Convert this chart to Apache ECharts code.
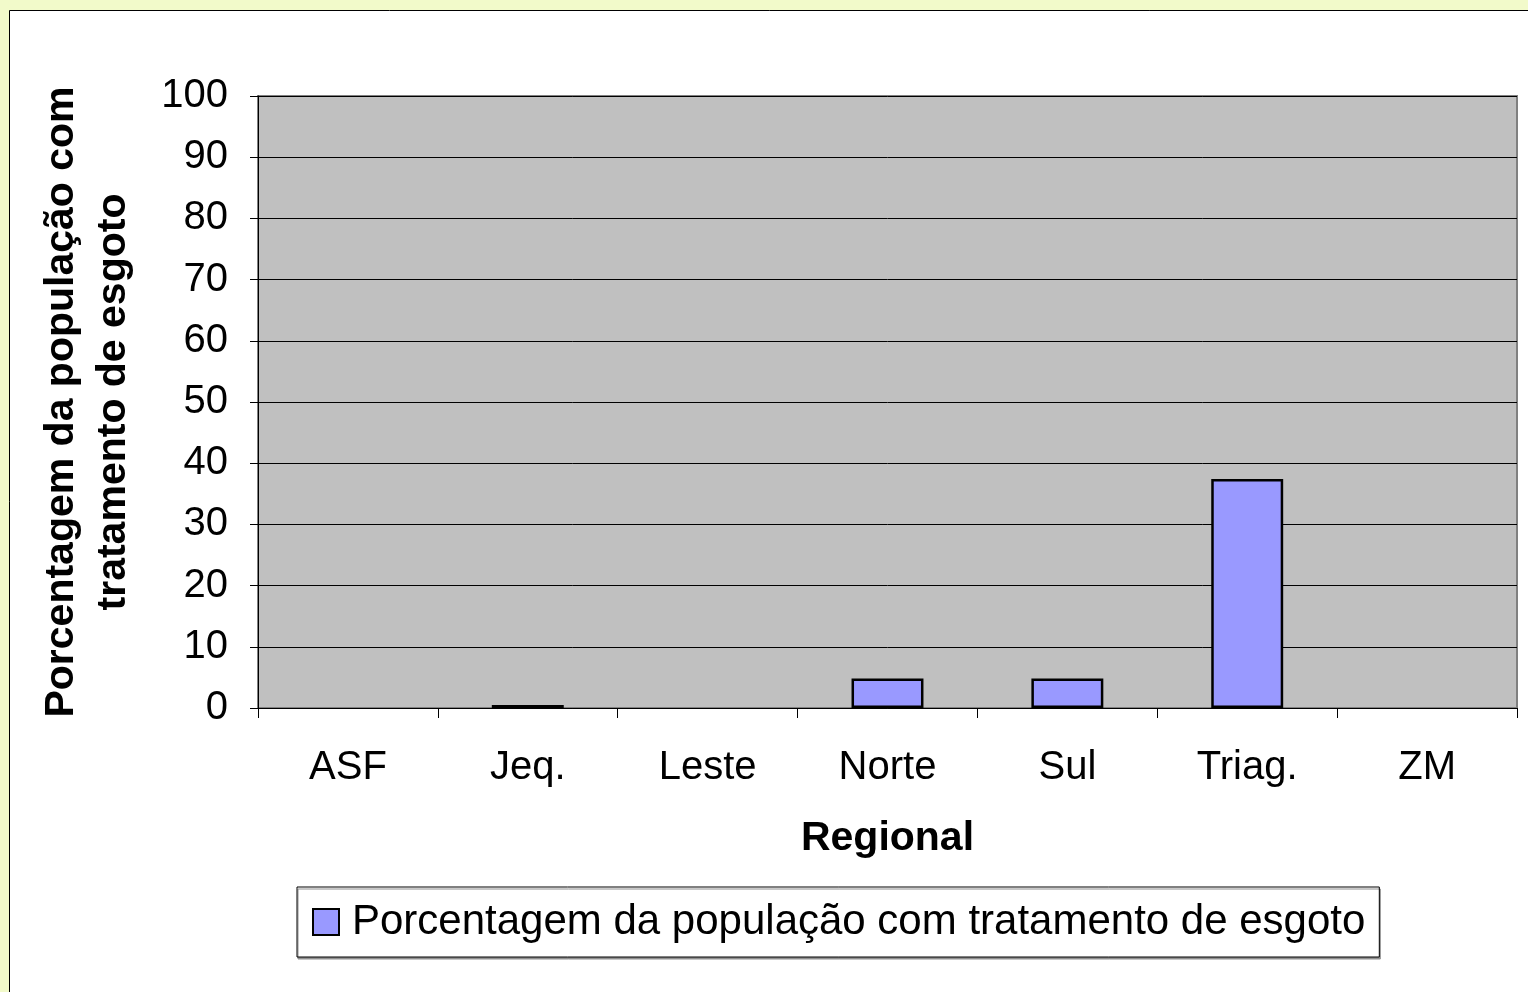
<!DOCTYPE html>
<html>
<head>
<meta charset="utf-8">
<script src="https://cdn.jsdelivr.net/npm/echarts@6/dist/echarts.min.js"></script>
<style>
  html, body { margin: 0; padding: 0; background: #F2FACA; }
  #chart { width: 1528px; height: 992px; }
</style>
</head>
<body>
<div id="chart"></div>
<script>
// categorias e valores
const regionais = ['ASF', 'Jeq.', 'Leste', 'Norte', 'Sul', 'Triag.', 'ZM']
const tratamento = [0, 0.5, 0, 4.8, 4.8, 37.4, 0]
const serieNome = 'Porcentagem da população com tratamento de esgoto'

const fonte = '"Liberation Sans", Arial, sans-serif'

// barras com valor zero não aparecem no original
const barras = tratamento.map(v => v === 0 ? { value: v, itemStyle: { borderWidth: 0, color: 'transparent' } } : v)

const chart = echarts.init(document.getElementById('chart'))
chart.setOption({
  backgroundColor: '#F2FACA',
  animation: false,
  graphic: [
    {
      type: 'rect',
      z: -10,
      silent: true,
      shape: { x: 9.5, y: 10.5, width: 1700, height: 1200 },
      style: { fill: '#fff', stroke: '#000', lineWidth: 1 }
    }
  ],
  grid: {
    left: 258, top: 96, right: 11, bottom: 284,
    show: true,
    backgroundColor: '#C0C0C0',
    borderColor: '#808080',
    borderWidth: 2
  },
  legend: {
    left: 297, top: 887,
    padding: [14, 14, 14, 15],
    backgroundColor: '#fff',
    borderColor: '#000',
    borderWidth: 1,
    shadowColor: '#909090',
    shadowOffsetX: 1,
    shadowOffsetY: 2,
    shadowBlur: 0,
    icon: 'rect',
    itemWidth: 26,
    itemHeight: 26,
    itemStyle: { borderColor: '#000', borderWidth: 2 },
    textStyle: { fontFamily: fonte, fontSize: 42, color: '#000', padding: [0, 0, 0, 8] },
    data: [serieNome]
  },
  xAxis: {
    type: 'category',
    data: regionais,
    axisLine: { lineStyle: { color: '#000', width: 1 } },
    axisTick: { show: true, length: 10, lineStyle: { color: '#000' } },
    axisLabel: { fontFamily: fonte, fontSize: 40, color: '#000', margin: 40 },
    name: 'Regional',
    nameLocation: 'middle',
    nameGap: 110,
    nameTextStyle: { fontFamily: fonte, fontSize: 41, fontWeight: 'bold', color: '#000' }
  },
  yAxis: {
    type: 'value',
    min: 0, max: 100, interval: 10,
    axisLine: { show: true, lineStyle: { color: '#000', width: 1 } },
    axisTick: { show: true, length: 8, lineStyle: { color: '#000' } },
    splitLine: { lineStyle: { color: '#000', width: 1 } },
    axisLabel: { fontFamily: fonte, fontSize: 40, color: '#000', margin: 30 },
    name: 'Porcentagem da população com\ntratamento de esgoto',
    nameLocation: 'middle',
    nameRotate: 90,
    nameGap: 118,
    nameTextStyle: { fontFamily: fonte, fontSize: 41, fontWeight: 'bold', color: '#000', lineHeight: 52 }
  },
  series: [
    {
      name: serieNome,
      type: 'bar',
      data: barras,
      barWidth: '40%',
      itemStyle: { color: '#9999FF', borderColor: '#000', borderWidth: 2.5 }
    }
  ]
})
</script>
</body>
</html>
